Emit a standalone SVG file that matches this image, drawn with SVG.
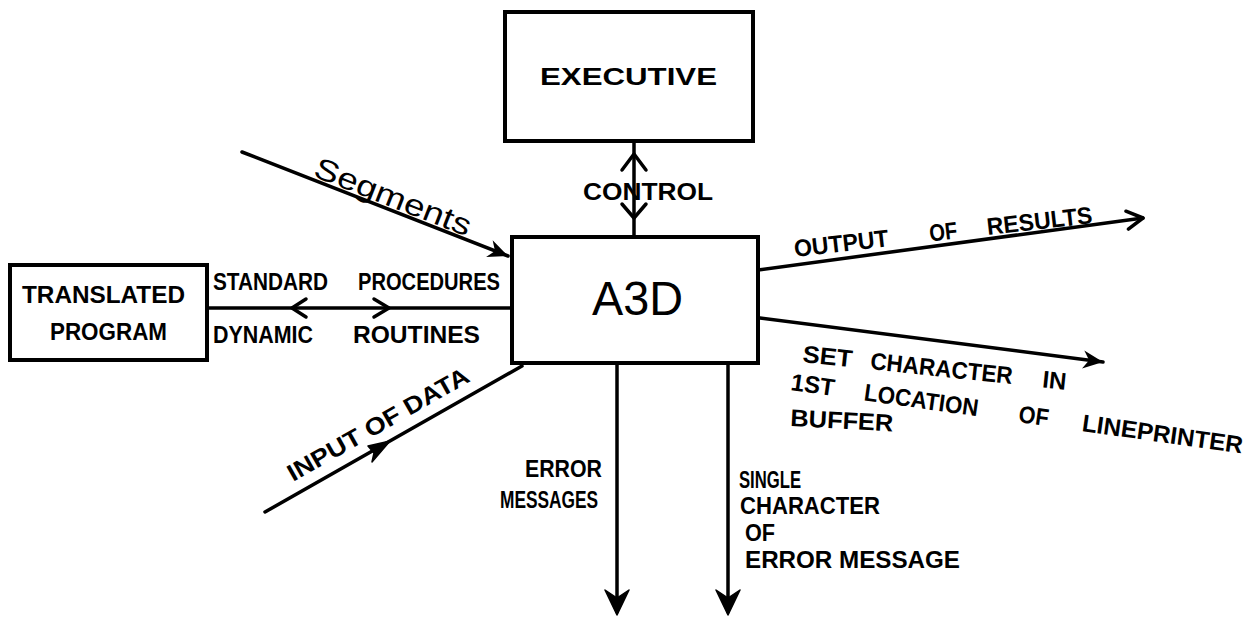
<svg xmlns="http://www.w3.org/2000/svg" width="1244" height="617" viewBox="0 0 1244 617">
  <style>
    .box { fill: #fff; stroke: #000; stroke-width: 4; }
    .ln { fill: none; stroke: #000; stroke-width: 3.5; stroke-linecap: round; }
    .chev { fill: none; stroke: #000; stroke-width: 3.5; stroke-linecap: round; stroke-linejoin: round; }
    .head { fill: #000; stroke: #000; stroke-width: 1.5; stroke-linejoin: round; }
    .t { font-family: "Liberation Sans", "DejaVu Sans", sans-serif; font-weight: bold; fill: #000; font-size: 24px; }
  </style>
  <defs>
    <marker id="open" viewBox="0 0 24 24" refX="21" refY="12" markerWidth="24" markerHeight="24" markerUnits="userSpaceOnUse" orient="auto">
      <path d="M5 3 L21 12 L5 21" fill="none" stroke="#000" stroke-width="3.5" stroke-linecap="round" stroke-linejoin="round"/>
    </marker>
    <marker id="solid" viewBox="0 0 24 24" refX="22" refY="12" markerWidth="24" markerHeight="24" markerUnits="userSpaceOnUse" orient="auto">
      <path d="M2 3 L22 12 L2 21 L8 12 Z" fill="#000"/>
    </marker>
  </defs>
  <rect width="1244" height="617" fill="#fff"/>

  <!-- connectors -->
  <g id="connectors">
    <!-- executive <-> A3D control -->
    <line class="ln" x1="634" y1="141" x2="634" y2="237"/>
    <path class="chev" d="M622 170 L634 154 L646 170"/>
    <path class="chev" d="M622 204 L634 218 L646 204"/>
    <text class="t" x="583" y="200" textLength="130" lengthAdjust="spacingAndGlyphs">CONTROL</text>

    <!-- segments in -->
    <line class="ln" x1="242" y1="152" x2="508" y2="256" marker-end="url(#solid)"/>
    <text x="0" y="0" transform="translate(312,176) rotate(21.4)" font-family="Liberation Sans, sans-serif" font-size="30" textLength="166" lengthAdjust="spacingAndGlyphs">Segments</text>

    <!-- translated program <-> A3D -->
    <line class="ln" x1="207" y1="308" x2="512" y2="308"/>
    <path class="chev" d="M306 299 L292 308 L306 317"/>
    <path class="chev" d="M374 299 L389 308 L374 317"/>
    <text class="t" x="213" y="290" textLength="115" lengthAdjust="spacingAndGlyphs">STANDARD</text>
    <text class="t" x="358" y="290" textLength="142" lengthAdjust="spacingAndGlyphs">PROCEDURES</text>
    <text class="t" x="213" y="343" textLength="100" lengthAdjust="spacingAndGlyphs">DYNAMIC</text>
    <text class="t" x="353" y="343" textLength="127" lengthAdjust="spacingAndGlyphs">ROUTINES</text>

    <!-- input of data -->
    <line class="ln" x1="265" y1="512" x2="522" y2="366"/>
    <path class="head" d="M390 441 L368 446 L374 453 L372 462 Z"/>
    <text class="t" transform="translate(293,482) rotate(-29.6)" font-size="22" textLength="205" lengthAdjust="spacingAndGlyphs">INPUT OF DATA</text>

    <!-- output of results -->
    <line class="ln" x1="758" y1="270" x2="1143" y2="218" marker-end="url(#open)"/>
    <g transform="translate(795,257) rotate(-6.5)">
      <text class="t" x="0" y="0" textLength="95" lengthAdjust="spacingAndGlyphs">OUTPUT</text>
      <text class="t" x="136" y="0" textLength="28" lengthAdjust="spacingAndGlyphs">OF</text>
      <text class="t" x="194" y="0" textLength="106" lengthAdjust="spacingAndGlyphs">RESULTS</text>
    </g>

    <!-- set character -->
    <line class="ln" x1="760" y1="318" x2="1103" y2="362" marker-end="url(#solid)"/>
    <g transform="translate(802,362) rotate(6)">
      <text class="t" x="0" y="0" textLength="50" lengthAdjust="spacingAndGlyphs">SET</text>
      <text class="t" x="68" y="0" textLength="143" lengthAdjust="spacingAndGlyphs">CHARACTER</text>
      <text class="t" x="241" y="0" textLength="24" lengthAdjust="spacingAndGlyphs">IN</text>
    </g>
    <g transform="translate(790,390) rotate(8)">
      <text class="t" x="0" y="0" textLength="44" lengthAdjust="spacingAndGlyphs">1ST</text>
      <text class="t" x="74" y="0" textLength="115" lengthAdjust="spacingAndGlyphs">LOCATION</text>
      <text class="t" x="230" y="0" textLength="30" lengthAdjust="spacingAndGlyphs">OF</text>
      <text class="t" x="294" y="0" textLength="162" lengthAdjust="spacingAndGlyphs">LINEPRINTER</text>
    </g>
    <text class="t" transform="translate(790,426) rotate(3)" textLength="103" lengthAdjust="spacingAndGlyphs">BUFFER</text>

    <!-- error messages -->
    <line class="ln" x1="617" y1="363" x2="617" y2="612"/>
    <path class="head" d="M605 590 L617 615 L629 590 L617 598 Z"/>
    <text class="t" x="525" y="477" textLength="77" lengthAdjust="spacingAndGlyphs">ERROR</text>
    <text class="t" x="500" y="508" textLength="98" lengthAdjust="spacingAndGlyphs">MESSAGES</text>

    <!-- single character of error message -->
    <line class="ln" x1="728" y1="363" x2="728" y2="612"/>
    <path class="head" d="M716 590 L728 615 L740 590 L728 598 Z"/>
    <text class="t" x="739" y="488" textLength="62" lengthAdjust="spacingAndGlyphs">SINGLE</text>
    <text class="t" x="740" y="514" textLength="140" lengthAdjust="spacingAndGlyphs">CHARACTER</text>
    <text class="t" x="745" y="541" textLength="30" lengthAdjust="spacingAndGlyphs">OF</text>
    <text class="t" x="745" y="568" textLength="215" lengthAdjust="spacingAndGlyphs">ERROR  MESSAGE</text>
  </g>

  <!-- nodes -->
  <g id="executive">
    <rect class="box" x="505" y="12" width="248" height="129"/>
    <text class="t" x="540" y="85" font-size="32" textLength="177" lengthAdjust="spacingAndGlyphs">EXECUTIVE</text>
  </g>
  <g id="a3d">
    <rect class="box" x="512" y="237" width="246" height="126"/>
    <text x="592" y="315" font-family="Liberation Sans, sans-serif" font-size="48" textLength="91" lengthAdjust="spacingAndGlyphs">A3D</text>
  </g>
  <g id="translated-program">
    <rect class="box" x="10" y="265" width="197" height="95"/>
    <text class="t" x="22" y="303" textLength="163" lengthAdjust="spacingAndGlyphs">TRANSLATED</text>
    <text class="t" x="50" y="340" textLength="117" lengthAdjust="spacingAndGlyphs">PROGRAM</text>
  </g>
</svg>
